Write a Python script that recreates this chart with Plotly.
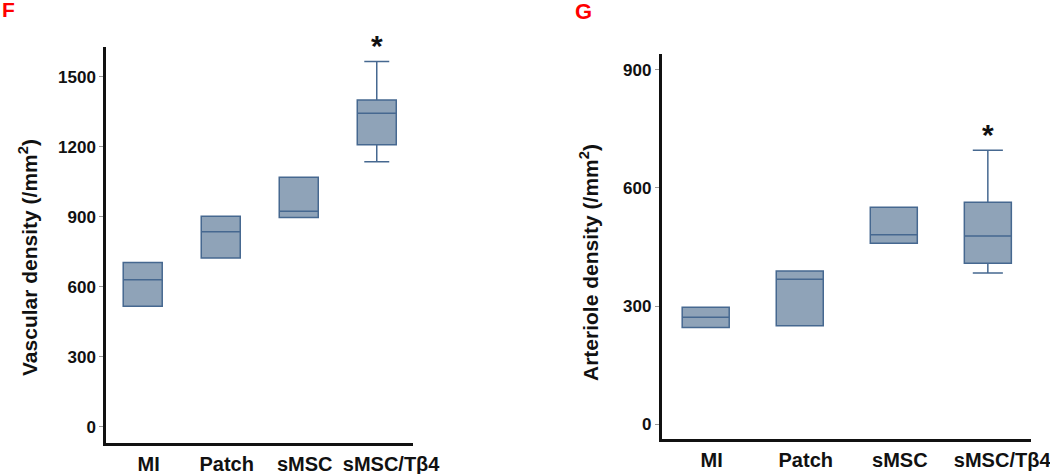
import plotly.graph_objects as go

categories = ["MI", "Patch", "sMSC", "sMSC/Tβ4"]
category_labels = ["MI", "Patch", "sMSC", "\u00a0\u00a0\u00a0sMSC/Tβ4"]

# Panel F: vascular density (/mm²)
vasc_q1 = [517, 724, 897, 1209]
vasc_median = [631, 836, 924, 1344]
vasc_q3 = [705, 903, 1070, 1401]
vasc_low = [517, 724, 897, 1136]
vasc_high = [705, 903, 1070, 1566]
vasc_ticks = [0, 300, 600, 900, 1200, 1500]

# Panel G: arteriole density (/mm²)
art_q1 = [246, 250, 460, 409]
art_median = [272, 368, 481, 478]
art_q3 = [297, 389, 551, 564]
art_low = [246, 250, 460, 384]
art_high = [297, 389, 551, 696]
art_ticks = [0, 300, 600, 900]

FILL = "#8fa3b8"
LINE = "#466890"
FONT = "Liberation Sans"

fig = go.Figure()

fig.add_trace(go.Box(
    x=categories, q1=vasc_q1, median=vasc_median, q3=vasc_q3,
    lowerfence=vasc_low, upperfence=vasc_high,
    fillcolor=FILL, line=dict(color=LINE, width=1.5),
    width=0.5, whiskerwidth=0.64, boxpoints=False,
    xaxis="x", yaxis="y", showlegend=False, hoverinfo="skip"))

fig.add_trace(go.Box(
    x=categories, q1=art_q1, median=art_median, q3=art_q3,
    lowerfence=art_low, upperfence=art_high,
    fillcolor=FILL, line=dict(color=LINE, width=1.5),
    width=0.5, whiskerwidth=0.64, boxpoints=False,
    xaxis="x2", yaxis="y2", showlegend=False, hoverinfo="skip"))

xcommon = dict(
    type="category", categoryorder="array", categoryarray=categories,
    tickvals=categories, ticktext=category_labels,
    range=[-0.47, 3.46], showline=True, linecolor="#111111", linewidth=2.5,
    ticks="", showgrid=False, zeroline=False, ticklabelshift=6,
    tickangle=0, automargin=False, ticklabelstandoff=1,
    tickfont=dict(family=FONT, size=20, color="#111111", weight="bold"),
)
ycommon = dict(
    showline=True, linecolor="#111111", linewidth=2.5, showgrid=False,
    zeroline=False, ticks="outside", ticklen=4, tickcolor="#999999",
    tickwidth=1, automargin=False,
    tickfont=dict(family=FONT, size=17, color="#111111", weight="bold"),
)

fig.update_layout(
    width=1050, height=474,
    margin=dict(l=0, r=0, t=0, b=0, autoexpand=False),
    paper_bgcolor="white", plot_bgcolor="white",
    xaxis=dict(domain=[0.101, 0.393], anchor="y", **xcommon),
    yaxis=dict(domain=[0.0654, 0.9008], anchor="x", range=[-69, 1628],
               tickvals=vasc_ticks, **ycommon),
    xaxis2=dict(domain=[0.630, 0.982], anchor="y2", **xcommon),
    yaxis2=dict(domain=[0.0732, 0.886], anchor="x2", range=[-38, 940],
                tickvals=art_ticks, **ycommon),
)

title_font = dict(family=FONT, size=21, color="#111111", weight="bold")
fig.add_annotation(x=28 / 1050, y=1 - 258 / 474, xref="paper", yref="paper",
                   text="Vascular density (/mm<sup>2</sup>)", textangle=-90,
                   showarrow=False, xanchor="center", yanchor="middle", font=title_font)
fig.add_annotation(x=589 / 1050, y=1 - 263 / 474, xref="paper", yref="paper",
                   text="Arteriole density (/mm<sup>2</sup>)", textangle=-90,
                   showarrow=False, xanchor="center", yanchor="middle", font=title_font)

# significance asterisks above the last group's upper whisker
fig.add_annotation(x=categories[3], y=vasc_high[3], xref="x", yref="y",
                   text="*", showarrow=False, yanchor="bottom", yshift=-3,
                   font=dict(family=FONT, size=30, color="#111111", weight="bold"))
fig.add_annotation(x=categories[3], y=art_high[3], xref="x2", yref="y2",
                   text="*", showarrow=False, yanchor="bottom", yshift=-3,
                   font=dict(family=FONT, size=30, color="#111111", weight="bold"))

# panel letters
fig.add_annotation(x=0, y=1, xref="paper", yref="paper", text="F",
                   showarrow=False, xanchor="left", yanchor="top", yshift=4,
                   font=dict(family=FONT, size=21, color="#ff0000", weight="bold"))
fig.add_annotation(x=0.546, y=1, xref="paper", yref="paper", text="G",
                   showarrow=False, xanchor="left", yanchor="top", yshift=3,
                   font=dict(family=FONT, size=22, color="#ff0000", weight="bold"))

fig.write_html("out.html",
               config={"displayModeBar": False},
               post_script="document.body.style.margin='0';document.body.style.overflow='hidden';")
